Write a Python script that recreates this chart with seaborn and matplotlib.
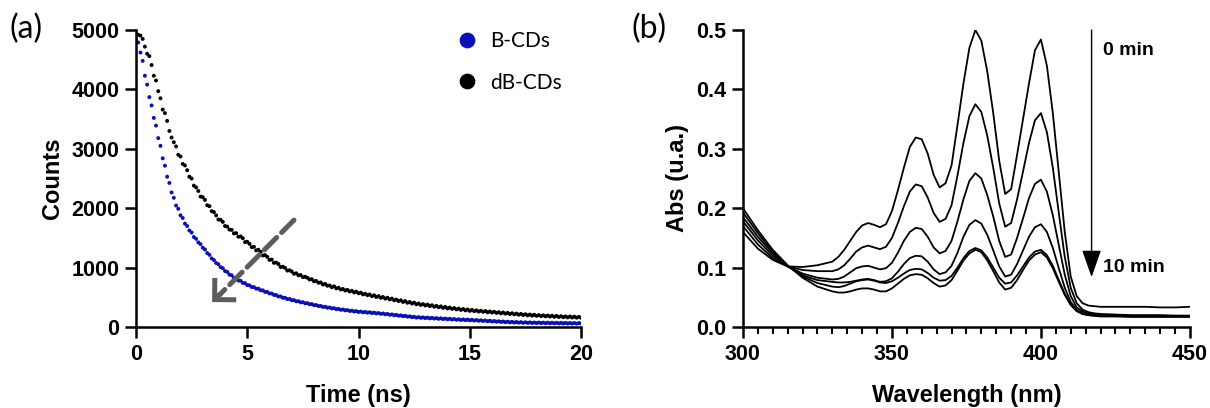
import numpy as np
import pandas as pd
import seaborn as sns
import matplotlib.pyplot as plt
from matplotlib.ticker import MultipleLocator

# ---- panel (a): fluorescence decay, counts sampled every 0.1 ns from 0 to 20 ns ----
step_ns = 0.1
counts_dB = [
    4950, 4920, 4905, 4850, 4720, 4600, 4560, 4410, 4230, 4150,
    3970, 3850, 3660, 3600, 3470, 3300, 3190, 3110, 3040, 2900,
    2870, 2745, 2720, 2640, 2530, 2500, 2380, 2350, 2290, 2195,
    2185, 2140, 2050, 2035, 1950, 1935, 1880, 1810, 1805, 1770,
    1700, 1690, 1640, 1635, 1575, 1580, 1520, 1525, 1495, 1430,
    1435, 1400, 1345, 1350, 1290, 1300, 1265, 1205, 1210, 1180,
    1130, 1135, 1080, 1085, 1060, 1010, 1015, 995, 950, 955,
    935, 895, 905, 870, 875, 840, 845, 830, 800, 805,
    770, 775, 745, 750, 715, 725, 695, 700, 670, 685,
    650, 660, 632, 640, 615, 625, 598, 610, 582, 595,
    568, 578, 550, 560, 536, 548, 520, 533, 505, 520,
    492, 505, 478, 492, 465, 478, 450, 462, 438, 450,
    422, 436, 408, 422, 395, 410, 382, 396, 372, 386,
    362, 378, 352, 366, 342, 356, 333, 347, 322, 338,
    312, 327, 305, 318, 296, 310, 288, 302, 280, 295,
    272, 288, 266, 280, 260, 274, 255, 268, 248, 262,
    243, 256, 237, 250, 230, 244, 225, 238, 219, 232,
    213, 226, 207, 221, 202, 215, 197, 210, 192, 206,
    188, 201, 184, 197, 180, 193, 176, 189, 172, 186,
    168, 182, 165, 179, 162, 177, 160, 174, 157, 170,
    155,
]
counts_B = [
    4840, 4790, 4620, 4480, 4230, 4080, 3870, 3730, 3520, 3390,
    3180, 3050, 2840, 2715, 2530, 2425, 2265, 2175, 2045, 1990,
    1880, 1835, 1740, 1700, 1625, 1590, 1515, 1485, 1425, 1395,
    1335, 1305, 1245, 1215, 1155, 1128, 1078, 1058, 1008, 990,
    942, 928, 882, 870, 828, 820, 782, 778, 742, 738,
    705, 702, 672, 672, 645, 645, 618, 617, 590, 590,
    565, 564, 540, 538, 514, 514, 492, 492, 471, 472,
    451, 453, 433, 435, 415, 418, 399, 402, 383, 386,
    367, 370, 352, 355, 338, 341, 325, 329, 313, 317,
    301, 305, 290, 295, 280, 285, 270, 275, 261, 267,
    253, 260, 247, 254, 241, 248, 235, 242, 229, 235,
    222, 228, 214, 220, 206, 212, 198, 204, 190, 196,
    182, 188, 174, 180, 166, 172, 158, 166, 154, 162,
    150, 158, 146, 154, 142, 150, 138, 146, 134, 142,
    130, 138, 126, 134, 122, 130, 118, 127, 116, 124,
    113, 121, 109, 117, 105, 113, 101, 109, 97, 105,
    93, 101, 89, 97, 85, 93, 81, 90, 78, 87,
    75, 84, 73, 82, 71, 80, 69, 78, 67, 76,
    66, 75, 65, 74, 64, 73, 63, 72, 62, 71,
    61, 70, 60, 69, 59, 68, 58, 67, 57, 66,
    60,
]
samples = ["B-CDs", "dB-CDs"]
colors = {"B-CDs": "#0a10b8", "dB-CDs": "black"}

# ---- panel (b): absorbance spectra, 0 min (top) to 10 min (bottom) ----
wavelength = [300, 305, 310, 315, 320, 325, 330,
              332, 334, 336, 338, 340, 342, 344, 346, 348, 350,
              352, 354, 356, 358, 360, 362, 364, 366, 368, 370,
              372, 374, 376, 378, 380, 382, 384, 386, 388, 390,
              392, 394, 396, 398, 400, 402, 404, 406, 408, 410,
              412, 414, 416, 418, 420,
              425, 430, 435, 440, 445, 450]
abs_c0 = [0.160, 0.132, 0.113, 0.102, 0.101, 0.104, 0.110,
          0.118, 0.130, 0.145, 0.160, 0.171, 0.175, 0.172, 0.168, 0.173, 0.195,
          0.230, 0.268, 0.303, 0.319, 0.316, 0.292, 0.256, 0.235, 0.242, 0.272,
          0.340, 0.410, 0.470, 0.500, 0.482, 0.430, 0.360, 0.280, 0.224, 0.232,
          0.290, 0.350, 0.410, 0.466, 0.484, 0.440, 0.360, 0.260, 0.160, 0.085,
          0.052, 0.040, 0.036, 0.035, 0.034,
          0.034, 0.034, 0.034, 0.033, 0.033, 0.034]
abs_c1 = [0.170, 0.139, 0.116, 0.102, 0.096, 0.094, 0.094,
          0.097, 0.104, 0.115, 0.127, 0.134, 0.137, 0.134, 0.131, 0.135, 0.150,
          0.175, 0.203, 0.228, 0.240, 0.237, 0.218, 0.192, 0.177, 0.182, 0.205,
          0.255, 0.310, 0.355, 0.375, 0.362, 0.322, 0.268, 0.208, 0.169, 0.175,
          0.215, 0.262, 0.310, 0.348, 0.360, 0.328, 0.268, 0.192, 0.118, 0.066,
          0.040, 0.029, 0.025, 0.023, 0.022,
          0.021, 0.020, 0.020, 0.020, 0.019, 0.019]
abs_c2 = [0.178, 0.146, 0.120, 0.102, 0.090, 0.083, 0.080,
          0.081, 0.085, 0.092, 0.099, 0.102, 0.103, 0.100, 0.097, 0.099, 0.108,
          0.125, 0.145, 0.160, 0.167, 0.165, 0.152, 0.134, 0.124, 0.128, 0.145,
          0.178, 0.215, 0.246, 0.259, 0.250, 0.222, 0.186, 0.145, 0.118, 0.122,
          0.150, 0.183, 0.217, 0.241, 0.248, 0.228, 0.188, 0.138, 0.088, 0.052,
          0.033, 0.026, 0.023, 0.021, 0.020,
          0.020, 0.019, 0.019, 0.019, 0.019, 0.019]
abs_c3 = [0.185, 0.152, 0.124, 0.102, 0.087, 0.079, 0.076,
          0.075, 0.075, 0.076, 0.078, 0.080, 0.081, 0.079, 0.076, 0.077, 0.082,
          0.093, 0.106, 0.116, 0.120, 0.119, 0.110, 0.097, 0.089, 0.092, 0.103,
          0.125, 0.152, 0.172, 0.180, 0.174, 0.155, 0.129, 0.102, 0.085, 0.088,
          0.106, 0.129, 0.152, 0.168, 0.173, 0.160, 0.133, 0.099, 0.066, 0.042,
          0.029, 0.023, 0.021, 0.020, 0.019,
          0.019, 0.018, 0.018, 0.018, 0.018, 0.018]
abs_c4 = [0.193, 0.158, 0.127, 0.103, 0.085, 0.074, 0.068,
          0.067, 0.069, 0.073, 0.077, 0.079, 0.080, 0.078, 0.075, 0.074, 0.077,
          0.083, 0.090, 0.096, 0.098, 0.097, 0.091, 0.083, 0.078, 0.079, 0.086,
          0.100, 0.116, 0.128, 0.133, 0.129, 0.117, 0.100, 0.083, 0.073, 0.075,
          0.087, 0.102, 0.117, 0.127, 0.130, 0.121, 0.103, 0.079, 0.056, 0.038,
          0.027, 0.022, 0.020, 0.019, 0.018,
          0.018, 0.018, 0.018, 0.018, 0.018, 0.018]
abs_c5 = [0.200, 0.163, 0.130, 0.104, 0.083, 0.068, 0.060,
          0.058, 0.058, 0.060, 0.063, 0.065, 0.065, 0.063, 0.060, 0.060, 0.065,
          0.073, 0.081, 0.087, 0.089, 0.088, 0.082, 0.074, 0.068, 0.070, 0.079,
          0.095, 0.112, 0.124, 0.130, 0.126, 0.112, 0.094, 0.075, 0.063, 0.066,
          0.079, 0.096, 0.112, 0.122, 0.126, 0.117, 0.099, 0.076, 0.054, 0.037,
          0.027, 0.022, 0.020, 0.019, 0.018,
          0.018, 0.017, 0.017, 0.017, 0.017, 0.017]
spectra = [abs_c0, abs_c1, abs_c2, abs_c3, abs_c4, abs_c5]

# long format tables for seaborn
decay = pd.concat([
    pd.DataFrame({"time": np.arange(len(c)) * step_ns, "counts": c, "sample": s})
    for s, c in zip(samples, [counts_B, counts_dB])
])
spec = pd.concat([
    pd.DataFrame({"wl": wavelength, "abs": a, "scan": i})
    for i, a in enumerate(spectra)
])

sns.set_style("ticks")
plt.rcParams["font.family"] = ["Liberation Sans", "DejaVu Sans"]
plt.rcParams["font.weight"] = "bold"
plt.rcParams["axes.labelweight"] = "bold"
plt.rcParams["axes.linewidth"] = 1.8
# pure black text and axes, like the original figure
for key in ["text.color", "axes.labelcolor", "xtick.color", "ytick.color", "axes.edgecolor"]:
    plt.rcParams[key] = "black"

fig = plt.figure(figsize=(12.1, 4.08), dpi=100)
ax1 = fig.add_axes([0.1124, 0.1985, 0.3678, 0.728])
ax2 = fig.add_axes([0.614, 0.1985, 0.3694, 0.728])

# (a)
sns.scatterplot(data=decay, x="time", y="counts", hue="sample", hue_order=samples,
                palette=colors, s=8, linewidth=0, ax=ax1)
ax1.set_xlim(0, 20)
ax1.set_ylim(0, 5000)
ax1.set_xticks([0, 5, 10, 15, 20])
ax1.set_yticks([0, 1000, 2000, 3000, 4000, 5000])
ax1.set_xlabel("Time (ns)", fontsize=17, labelpad=14)
ax1.set_ylabel("Counts", fontsize=17, labelpad=5)
leg = ax1.legend(frameon=False, loc="upper right", bbox_to_anchor=(1.0, 1.06),
                 markerscale=4.0, handletextpad=0.15, labelspacing=1.05,
                 prop={"family": "Lato", "size": 15, "weight": "normal"})
for t in leg.get_texts():
    t.set_color("black")

# dashed grey arrow
ax1.annotate("", xy=(3.75, 540), xytext=(7.1, 1800),
             arrowprops=dict(arrowstyle="-", lw=3.6, color="#5d5d5d",
                             linestyle=(0, (3.5, 1.4)), shrinkA=0, shrinkB=0))
ax1.annotate("", xy=(3.42, 420), xytext=(3.8, 560),
             arrowprops=dict(arrowstyle="->,head_length=0.55,head_width=0.55",
                             lw=3.6, color="#5d5d5d", shrinkA=0, shrinkB=0,
                             joinstyle="miter", capstyle="butt", mutation_scale=20))

# (b)
sns.lineplot(data=spec, x="wl", y="abs", units="scan", estimator=None,
             color="black", lw=1.3, ax=ax2)
ax2.set_xlim(300, 450)
ax2.set_ylim(0, 0.5)
ax2.set_xticks([300, 350, 400, 450])
ax2.xaxis.set_minor_locator(MultipleLocator(5))
ax2.set_yticks([0.0, 0.1, 0.2, 0.3, 0.4, 0.5])
ax2.set_yticklabels([f"{v:.1f}" for v in [0.0, 0.1, 0.2, 0.3, 0.4, 0.5]])
ax2.set_xlabel("Wavelength (nm)", fontsize=17, labelpad=14)
ax2.set_ylabel("Abs (u.a.)", fontsize=17, labelpad=5)

ax2.annotate("", xy=(417, 0.084), xytext=(417, 0.5),
             arrowprops=dict(arrowstyle="-|>,head_length=1.7,head_width=0.6",
                             lw=1.0, color="black", shrinkA=0, shrinkB=0,
                             mutation_scale=10))
ax2.text(421, 0.466, "0 min", fontsize=14, fontweight="bold", va="center")
ax2.text(421, 0.101, "10 min", fontsize=14, fontweight="bold", va="center")

for ax in (ax1, ax2):
    sns.despine(ax=ax)
    ax.tick_params(axis="both", which="major", length=8, width=1.8,
                   labelsize=15.5, pad=4, colors="black")
    ax.tick_params(axis="x", which="minor", length=5, width=1.5, colors="black")
    for lab in ax.get_xticklabels() + ax.get_yticklabels():
        lab.set_fontweight("bold")

fig.text(0.008, 0.93, "(a)", fontsize=23, family="Lato", fontweight="normal", va="center")
fig.text(0.522, 0.93, "(b)", fontsize=23, family="Lato", fontweight="normal", va="center")

fig.savefig("out.png", dpi=100)
